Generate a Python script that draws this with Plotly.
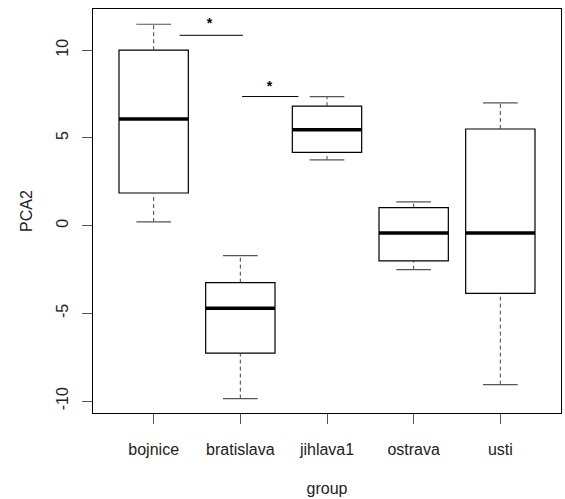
import plotly.graph_objects as go

groups = ["bojnice", "bratislava", "jihlava1", "ostrava", "usti"]
lower = [0.21, -9.86, 3.75, -2.51, -9.06]
q1 = [1.86, -7.27, 4.18, -2.01, -3.86]
median = [6.08, -4.71, 5.47, -0.42, -0.42]
q3 = [10.0, -3.25, 6.81, 1.03, 5.51]
upper = [11.48, -1.71, 7.36, 1.35, 7.0]

y_ticks = [-10, -5, 0, 5, 10]
y_ticklabels = ["-10", "-5", "0", "5", "10"]

# significance brackets
sig_x0 = [0.30, 1.02]
sig_x1 = [1.03, 1.67]
sig_y = [10.85, 7.36]
star_x = [0.645, 1.336]
star_y = [11.44, 7.89]

pos = list(range(len(groups)))
BOXW = 0.8
CAPW = 0.4
FONT = "Liberation Sans, Arial, sans-serif"

fig = go.Figure()

# dashed whiskers and caps
for i in pos:
    for a, b in ((lower[i], q1[i]), (q3[i], upper[i])):
        fig.add_trace(go.Scatter(x=[i, i], y=[a, b], mode="lines",
                                 line=dict(color="#444", width=1, dash="4px,3px"),
                                 hoverinfo="skip", showlegend=False))
    for v in (lower[i], upper[i]):
        fig.add_trace(go.Scatter(x=[i - CAPW / 2, i + CAPW / 2], y=[v, v], mode="lines",
                                 line=dict(color="#555", width=1.2),
                                 hoverinfo="skip", showlegend=False))

fig.add_trace(go.Box(
    x=pos, q1=q1, median=median, q3=q3, lowerfence=q1, upperfence=q3,
    width=BOXW, fillcolor="white", line=dict(color="black", width=1.2),
    whiskerwidth=0, boxpoints=False, showlegend=False,
))

# thick medians
for i in pos:
    fig.add_trace(go.Scatter(x=[i - BOXW / 2, i + BOXW / 2], y=[median[i], median[i]],
                             mode="lines", line=dict(color="black", width=3.5),
                             hoverinfo="skip", showlegend=False))

# significance lines and stars
for k in range(len(sig_y)):
    fig.add_trace(go.Scatter(x=[sig_x0[k], sig_x1[k]], y=[sig_y[k], sig_y[k]], mode="lines",
                             line=dict(color="black", width=1),
                             hoverinfo="skip", showlegend=False))
    fig.add_trace(go.Scatter(x=[star_x[k]], y=[star_y[k]], mode="text", text=["<b>*</b>"],
                             textfont=dict(family=FONT, size=14, color="black"),
                             hoverinfo="skip", showlegend=False))

fig.update_layout(
    width=565, height=499,
    margin=dict(l=93, r=4, t=9, b=86),
    plot_bgcolor="white", paper_bgcolor="white",
    font=dict(family=FONT, size=16, color="#222"),
    showlegend=False,
)
fig.update_xaxes(
    range=[-0.7, 4.7], tickvals=pos, ticktext=groups,
    showgrid=False, zeroline=False,
    showline=True, mirror=True, linecolor="black", linewidth=1,
    ticks="outside", ticklen=10, tickcolor="#555", tickwidth=1.2,
    ticklabelstandoff=12,
    title=dict(text="group", standoff=25, font=dict(size=16)),
)
fig.update_yaxes(
    range=[-10.68, 12.35], tickvals=y_ticks, ticktext=y_ticklabels,
    tickangle=-90,
    showgrid=False, zeroline=False,
    showline=True, mirror=True, linecolor="black", linewidth=1,
    ticks="outside", ticklen=10, tickcolor="#555", tickwidth=1.2,
    ticklabelstandoff=8,
    title=dict(text="PCA2", standoff=16, font=dict(size=16)),
)

fig.write_html("out.html")
